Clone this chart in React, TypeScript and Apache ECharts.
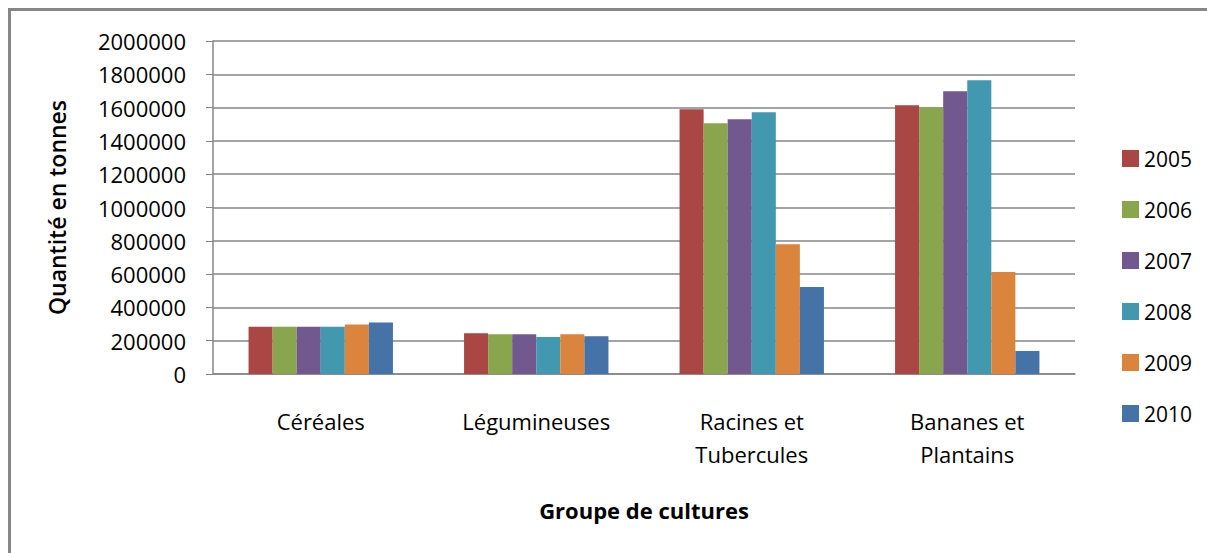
import React, { useEffect, useRef } from "react";
import * as echarts from "echarts";

const categories = ["Céréales", "Légumineuses", "Racines et\nTubercules", "Bananes et\nPlantains"];
const years = ["2005", "2006", "2007", "2008", "2009", "2010"];
const v2005 = [284000, 245000, 1590000, 1614000];
const v2006 = [284000, 239000, 1506000, 1602000];
const v2007 = [284000, 239000, 1530000, 1698000];
const v2008 = [284000, 222000, 1572000, 1764000];
const v2009 = [298000, 239000, 780000, 612000];
const v2010 = [310000, 227000, 522000, 138000];
const seriesValues = [v2005, v2006, v2007, v2008, v2009, v2010];
const colors = ["#AA4643", "#89A54E", "#71588F", "#4198AF", "#DB843D", "#4572A7"];

const FONT = "'Open Sans', 'Noto Sans', sans-serif";

export default function App() {
  const ref = useRef<HTMLDivElement>(null);
  useEffect(() => {
    if (!ref.current) return;
    const chart = echarts.init(ref.current, undefined, { renderer: "svg" });
    chart.setOption({
      animation: false,
      backgroundColor: "#ffffff",
      color: colors,
      textStyle: { fontFamily: FONT },
      grid: { left: 213, top: 41, right: 132, bottom: 179, containLabel: false },
      legend: {
        orient: "vertical",
        left: 1117,
        top: 143,
        itemWidth: 17,
        itemHeight: 17,
        itemGap: 30,
        icon: "rect",
        textStyle: { fontFamily: FONT, fontSize: 21, color: "#000", padding: [0, 0, 0, 0] },
        data: years,
      },
      xAxis: {
        type: "category",
        data: categories,
        axisLine: { show: true, lineStyle: { color: "#868686", width: 1.5 } },
        axisTick: { show: false },
        axisLabel: {
          fontFamily: FONT,
          fontSize: 22,
          color: "#000",
          margin: 30,
          lineHeight: 33,
          interval: 0,
        },
        name: "Groupe de cultures",
        nameLocation: "middle",
        nameGap: 125,
        nameTextStyle: { fontFamily: FONT, fontSize: 22, fontWeight: "bold", color: "#000" },
      },
      yAxis: {
        type: "value",
        min: 0,
        max: 2000000,
        interval: 200000,
        axisLine: { show: true, lineStyle: { color: "#868686", width: 1.5 } },
        axisTick: { show: true, inside: false, length: 7, lineStyle: { color: "#868686" } },
        splitLine: { show: true, lineStyle: { color: "#868686", width: 1.5 } },
        axisLabel: {
          fontFamily: FONT,
          fontSize: 22,
          color: "#000",
          margin: 27,
          formatter: (v: number) => String(v),
        },
        name: "Quantité en tonnes",
        nameLocation: "middle",
        nameRotate: 90,
        nameGap: 145,
        nameTextStyle: { fontFamily: FONT, fontSize: 23, fontWeight: 600, color: "#000" },
      },
      series: years.map((y, i) => ({
        name: y,
        type: "bar",
        data: seriesValues[i],
        barGap: "0%",
        barCategoryGap: "33%",
        itemStyle: { color: colors[i] },
      })),
      graphic: [
        { type: "line", shape: { x1: 9, y1: 9.5, x2: 1207, y2: 9.5 }, style: { stroke: "#868686", lineWidth: 3 } },
        { type: "line", shape: { x1: 9.5, y1: 8, x2: 9.5, y2: 553 }, style: { stroke: "#868686", lineWidth: 3 } },
      ],
    });
    return () => chart.dispose();
  }, []);
  return <div ref={ref} style={{ position: "fixed", left: 0, top: 0, width: 1207, height: 553 }} />;
}
